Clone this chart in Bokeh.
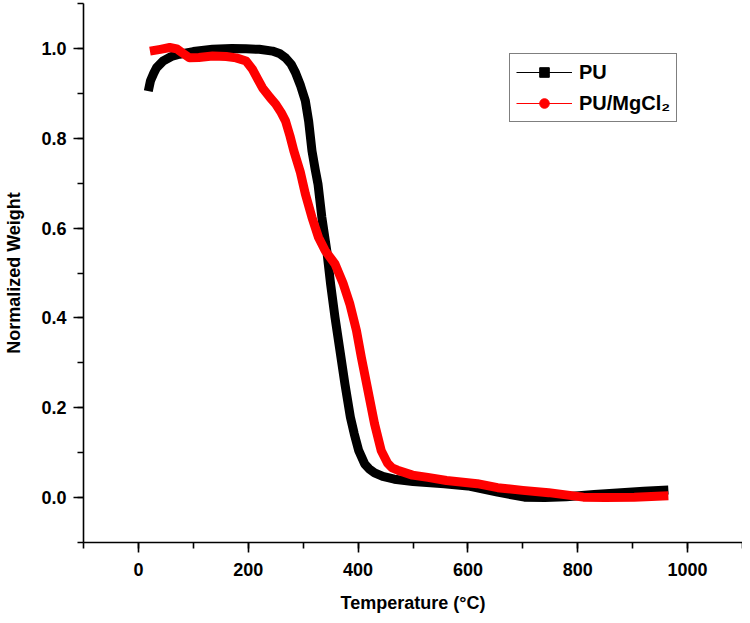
import math
from bokeh.plotting import figure
from bokeh.models import (Range1d, SingleIntervalTicker, NumeralTickFormatter,
                          Legend, LegendItem)
from bokeh.embed import file_html
from bokeh.resources import INLINE

# ---- data ----
pu_temp = [18, 22, 28, 33, 45, 60, 75, 100, 135, 170, 196, 220, 244, 258, 268,
           278, 286, 295, 304, 310, 316, 322, 327, 334, 343, 350, 358, 367, 376,
           386, 393, 401, 412, 420, 430, 445, 466, 500, 557, 600, 654, 703, 740,
           779, 830, 872, 920, 965]
pu_weight = [0.905, 0.928, 0.945, 0.957, 0.972, 0.982, 0.987, 0.993, 0.998, 1.0,
             0.999, 0.998, 0.994, 0.988, 0.979, 0.965, 0.946, 0.918, 0.883, 0.838,
             0.772, 0.73, 0.698, 0.624, 0.55, 0.475, 0.401, 0.327, 0.253, 0.179,
             0.142, 0.105, 0.075, 0.064, 0.055, 0.047, 0.041, 0.036, 0.031, 0.026,
             0.012, 0.001, 0.0, 0.002, 0.007, 0.01, 0.014, 0.017]

mg_temp = [21, 40, 57, 70, 80, 93, 110, 135, 160, 178, 196, 208, 218, 226, 240,
           250, 260, 268, 276, 283, 295, 304, 316, 328, 340, 358, 373, 385, 397,
           406, 418, 430, 442, 454, 462, 472, 499, 527, 561, 617, 654, 700, 747,
           810, 850, 903, 965]
mg_weight = [0.994, 0.998, 1.002, 0.999, 0.99, 0.979, 0.98, 0.983, 0.982, 0.979,
             0.972, 0.953, 0.93, 0.912, 0.89, 0.876, 0.857, 0.838, 0.805, 0.772,
             0.724, 0.676, 0.624, 0.579, 0.55, 0.52, 0.476, 0.431, 0.372, 0.312,
             0.238, 0.164, 0.105, 0.076, 0.066, 0.061, 0.05, 0.045, 0.038, 0.031,
             0.022, 0.016, 0.011, 0.001, 0.0, 0.001, 0.004]

series_labels = ["PU", "PU/MgCl\u2082"]
x_label = "Temperature (\u00b0C)"
y_label = "Normalized Weight"

FONT = "Liberation Sans"

p = figure(width=742, height=615,
           x_range=Range1d(-100, 1100), y_range=Range1d(-0.1, 1.1),
           output_backend="svg", toolbar_location=None,
           min_border_left=83, min_border_right=0,
           min_border_top=3, min_border_bottom=0)
p.outline_line_color = None
p.grid.visible = False
p.background_fill_color = "white"
p.border_fill_color = "white"

p.xaxis.ticker = SingleIntervalTicker(interval=200, num_minor_ticks=2)
p.yaxis.ticker = SingleIntervalTicker(interval=0.2, num_minor_ticks=2)
p.yaxis.formatter = NumeralTickFormatter(format="0.0")

for ax in (p.xaxis[0], p.yaxis[0]):
    ax.axis_line_width = 1.6
    ax.axis_line_color = "black"
    ax.major_tick_out = 10
    ax.major_tick_in = 0
    ax.minor_tick_out = 6
    ax.minor_tick_in = 0
    ax.major_tick_line_width = 1.6
    ax.minor_tick_line_width = 1.6
    ax.major_tick_line_color = "black"
    ax.minor_tick_line_color = "black"
    ax.major_label_text_font = FONT
    ax.major_label_text_font_style = "bold"
    ax.major_label_text_font_size = "18px"
    ax.major_label_text_color = "black"
    ax.axis_label_text_font = FONT
    ax.axis_label_text_font_style = "bold"
    ax.axis_label_text_font_size = "18px"
    ax.axis_label_text_color = "black"

p.xaxis.axis_label = x_label
p.yaxis.axis_label = y_label
p.xaxis.major_label_standoff = 10
p.xaxis.axis_label_standoff = 14
p.yaxis.major_label_standoff = 7
p.yaxis.axis_label_standoff = 14

p.line(pu_temp, pu_weight, line_color="black", line_width=9, line_join="round")
p.line(mg_temp, mg_weight, line_color="#ff0000", line_width=9, line_join="round")

# legend proxies (thin line with marker, like the reference)
nan = float("nan")
l1 = p.line([nan, nan], [nan, nan], line_color="black", line_width=1.2)
s1 = p.scatter([nan], [nan], marker="square", size=7, color="black")
l2 = p.line([nan, nan], [nan, nan], line_color="#ff0000", line_width=1.2)
s2 = p.scatter([nan], [nan], marker="circle", size=8, color="#ff0000")

legend = Legend(items=[LegendItem(label=series_labels[0], renderers=[l1, s1]),
                       LegendItem(label=series_labels[1], renderers=[l2, s2])],
                location=(426, 420))
legend.label_text_font = FONT
legend.label_text_font_style = "bold"
legend.label_text_font_size = "20px"
legend.label_text_color = "black"
legend.glyph_width = 56
legend.glyph_height = 24
legend.label_height = 24
legend.label_standoff = 7
legend.spacing = 7
legend.padding = 6
legend.margin = 0
legend.border_line_color = "black"
legend.border_line_width = 1.5
legend.background_fill_color = "white"
legend.background_fill_alpha = 1.0
p.add_layout(legend)

open("out.html", "w").write(file_html(p, INLINE))
